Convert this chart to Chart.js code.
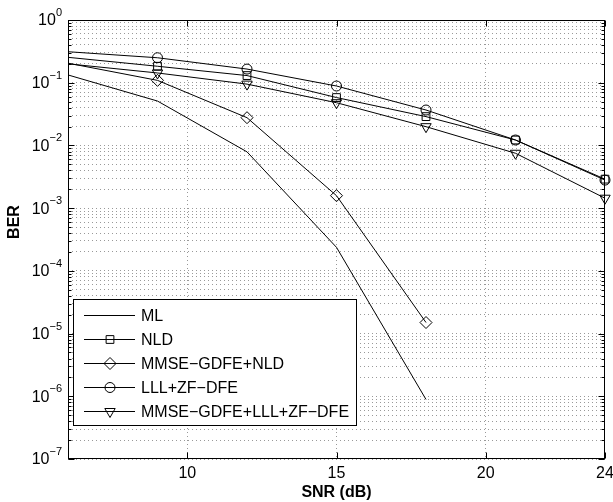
<!DOCTYPE html>
<html>
<head>
<meta charset="utf-8">
<script src="https://cdn.jsdelivr.net/npm/chart.js@4.4.0/dist/chart.umd.min.js"></script>
<style>
  body { margin: 0; background: #fff; }
  canvas { display: block; }
</style>
</head>
<body>
<canvas id="berChart" width="613" height="502"></canvas>
<script>
// SNR points (dB) and BER per detector
const snr = [6, 9, 12, 15, 18, 21, 24];
const berML = [0.133, 0.051, 0.0079, 2.37e-4, 8.9e-7];
const berNLD = [0.254, 0.183, 0.13, 0.058, 0.0288, 0.0122, 0.0029];
const berGdfeNld = [0.205, 0.109, 0.0277, 1.58e-3, 1.5e-5];
const berLllZf = [0.312, 0.25, 0.165, 0.0886, 0.0367, 0.0122, 0.0028];
const berGdfeLll = [0.2, 0.143, 0.095, 0.048, 0.0199, 0.0075, 0.00144];

const seriesNames = ['ML', 'NLD', 'MMSE\u2212GDFE+NLD', 'LLL+ZF\u2212DFE', 'MMSE\u2212GDFE+LLL+ZF\u2212DFE'];
const xTicks = [10, 15, 20, 24];
const yExponents = [-7, -6, -5, -4, -3, -2, -1, 0];

const FONT = '"Liberation Sans", Arial, Helvetica, sans-serif';

function toPoints(values) {
    return values.map((v, i) => ({ x: snr[i], y: v }));
}

// marker look per series (ML has none)
const markers = [
    { style: false, radius: 0, rotation: 0 },
    { style: 'rect', radius: 5.5, rotation: 0 },
    { style: 'rectRot', radius: 6, rotation: 0 },
    { style: 'circle', radius: 5, rotation: 0 },
    { style: 'triangle', radius: 6, rotation: 180 }
];

const allSeries = [berML, berNLD, berGdfeNld, berLllZf, berGdfeLll];

const datasets = allSeries.map((values, k) => ({
    label: seriesNames[k],
    data: toPoints(values),
    borderColor: '#000',
    borderWidth: 1,
    backgroundColor: 'rgba(0,0,0,0)',
    pointStyle: markers[k].style,
    pointRotation: markers[k].rotation,
    // no marker on the first point, it sits on the axis edge
    pointRadius: ctx => (ctx.dataIndex === 0 ? 0 : markers[k].radius),
    pointBorderColor: '#000',
    pointBorderWidth: 1,
    pointBackgroundColor: 'rgba(0,0,0,0)',
    tension: 0,
    fill: false,
    clip: 12
}));

function drawMarker(ctx, k, x, y) {
    const m = markers[k];
    if (!m.style) return;
    ctx.save();
    ctx.strokeStyle = '#000';
    ctx.fillStyle = 'rgba(0,0,0,0)';
    ctx.lineWidth = 1;
    Chart.helpers.drawPoint(ctx, { pointStyle: m.style, rotation: m.rotation, radius: m.radius, borderWidth: 1 }, x, y);
    ctx.restore();
}

// frame, ticks, labels, titles and legend in MATLAB style
const matlabFrame = {
    id: 'matlabFrame',
    afterDraw(chart) {
        const { ctx, chartArea: a, scales } = chart;
        const xs = scales.x, ys = scales.y;
        const L = Math.round(a.left) + 0.5, R = Math.round(a.right) - 0.5;
        const T = Math.round(a.top) + 0.5, B = Math.round(a.bottom) - 0.5;

        ctx.save();
        ctx.strokeStyle = '#000';
        ctx.lineWidth = 1;
        ctx.strokeRect(L, T, R - L, B - T);

        // inward ticks
        ctx.beginPath();
        xTicks.forEach(v => {
            const px = Math.round(xs.getPixelForValue(v)) + 0.5;
            ctx.moveTo(px, B); ctx.lineTo(px, B - 6);
            ctx.moveTo(px, T); ctx.lineTo(px, T + 6);
        });
        yExponents.forEach(e => {
            for (let m = 1; m <= 9; m++) {
                const v = m * Math.pow(10, e);
                if (v > 1) break;
                const py = Math.round(ys.getPixelForValue(v)) + 0.5;
                const len = m === 1 ? 6 : 3;
                ctx.moveTo(L, py); ctx.lineTo(L + len, py);
                ctx.moveTo(R, py); ctx.lineTo(R - len, py);
            }
        });
        ctx.stroke();

        // tick labels
        ctx.fillStyle = '#000';
        ctx.textBaseline = 'middle';
        ctx.textAlign = 'center';
        ctx.font = '16px ' + FONT;
        xTicks.forEach(v => {
            ctx.fillText(String(v), xs.getPixelForValue(v), a.bottom + 15);
        });

        ctx.textAlign = 'left';
        yExponents.forEach(e => {
            const py = ys.getPixelForValue(Math.pow(10, e));
            const expText = e < 0 ? '\u2212' + Math.abs(e) : String(e);
            ctx.font = '11px ' + FONT;
            const wExp = ctx.measureText(expText).width;
            ctx.font = '16px ' + FONT;
            const wBase = ctx.measureText('10').width;
            const right = a.left - 6;
            ctx.fillText('10', right - wExp - wBase, py + 1);
            ctx.font = '11px ' + FONT;
            ctx.fillText(expText, right - wExp, py - 7);
        });

        // axis titles
        ctx.font = 'bold 16px ' + FONT;
        ctx.textAlign = 'center';
        ctx.fillText('SNR (dB)', (a.left + a.right) / 2, a.bottom + 34);
        ctx.save();
        ctx.translate(15, 222);
        ctx.rotate(-Math.PI / 2);
        ctx.fillText('BER', 0, 0);
        ctx.restore();

        // legend
        const box = { x: 73.5, y: 299.5, w: 283, h: 126 };
        ctx.fillStyle = '#fff';
        ctx.fillRect(box.x, box.y, box.w, box.h);
        ctx.strokeRect(box.x, box.y, box.w, box.h);
        ctx.font = '16px ' + FONT;
        ctx.textAlign = 'left';
        seriesNames.forEach((name, k) => {
            const y = 315.5 + k * 24;
            ctx.beginPath();
            ctx.moveTo(84, y); ctx.lineTo(135, y);
            ctx.stroke();
            drawMarker(ctx, k, 110, y);
            ctx.fillStyle = '#000';
            ctx.fillText(name, 141, y + 1);
        });
        ctx.restore();
    }
};

new Chart(document.getElementById('berChart'), {
    type: 'line',
    data: { datasets },
    options: {
        responsive: false,
        animation: false,
        layout: { padding: { left: 68, right: 8, top: 20, bottom: 43 } },
        plugins: { legend: { display: false }, tooltip: { enabled: false } },
        elements: { line: { borderJoinStyle: 'miter' } },
        scales: {
            x: {
                type: 'linear',
                min: 6,
                max: 24,
                afterBuildTicks: s => { s.ticks = [10, 15, 20].map(v => ({ value: v })); },
                ticks: { display: false },
                grid: { color: '#999', lineWidth: 1, drawTicks: false },
                border: { display: false, dash: [1, 3] }
            },
            y: {
                type: 'logarithmic',
                min: 1e-7,
                max: 1,
                afterBuildTicks: s => {
                    const t = [];
                    yExponents.forEach(e => {
                        for (let m = 1; m <= 9; m++) {
                            const v = m * Math.pow(10, e);
                            if (v <= 1) t.push({ value: v });
                        }
                    });
                    s.ticks = t;
                },
                ticks: { display: false, autoSkip: false },
                grid: { color: '#999', lineWidth: 1, drawTicks: false },
                border: { display: false, dash: [1, 3] }
            }
        }
    },
    plugins: [matlabFrame]
});
</script>
</body>
</html>
